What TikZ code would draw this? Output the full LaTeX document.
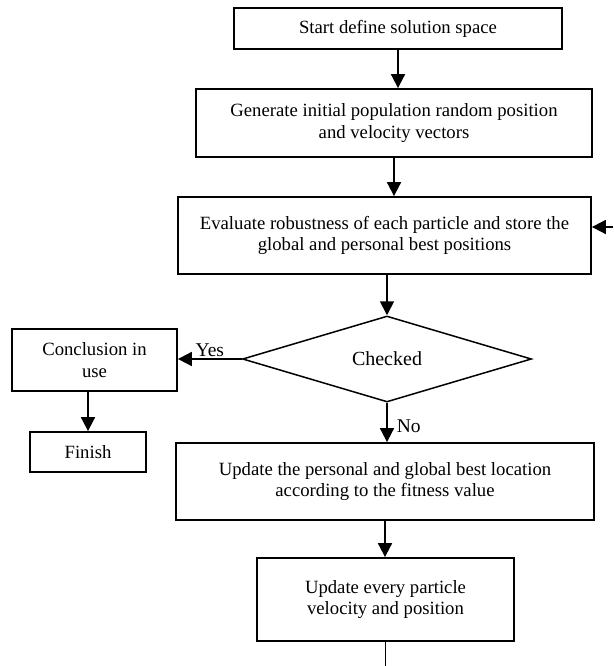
\documentclass[tikz,border=0pt]{standalone}
\usepackage{fontspec}
\setmainfont{Liberation Serif}
\usetikzlibrary{shapes.geometric,arrows.meta}

\begin{document}
\begin{tikzpicture}[x=1pt,y=-1pt,
    blocco/.style={draw, line width=1.8pt, align=center, inner sep=0pt, font=\fontsize{18.7}{21.5}\selectfont},
    rombo/.style={draw, diamond, line width=1.5pt, inner sep=0pt, aspect=3.4, font=\fontsize{20}{24}\selectfont},
    freccia/.style={-{Triangle[length=14pt,width=14pt]}, line width=1.8pt},
    etichetta/.style={font=\fontsize{19.5}{22}\selectfont, inner sep=1pt}]
  \useasboundingbox (0,0) rectangle (613,666);
  %blocchi principali
  \node[blocco, minimum width=328pt, minimum height=41pt] (inizio) at (398,28.5) {Start define solution space};
  \node[blocco, minimum width=396pt, minimum height=68pt] (genera) at (394,123) {Generate initial population random position\\and velocity vectors};
  \node[blocco, minimum width=413pt, minimum height=77pt] (valuta) at (384.5,235.5) {Evaluate robustness of each particle and store the\\global and personal best positions};
  \node[rombo, minimum width=289pt, minimum height=86pt] (decisione) at (387,359) {Checked};
  \node[blocco, minimum width=165pt, minimum height=62pt] (conclusione) at (94.5,360) {Conclusion in\\use};
  \node[blocco, minimum width=116pt, minimum height=40pt] (fine) at (88,452) {Finish};
  \node[blocco, minimum width=418pt, minimum height=77pt] (aggiorna) at (385,481.5) {Update the personal and global best location\\according to the fitness value};
  \node[blocco, minimum width=257pt, minimum height=83pt] (velocita) at (385.5,599.5) {Update every particle\\velocity and position};
  %estremi liberi
  \coordinate (ritorno) at (613,227);
  \coordinate (uscita) at (386,666);
  %collegamenti
  \draw[freccia] (inizio.south) -- (inizio.south |- genera.north);
  \draw[freccia] (genera.south) -- (genera.south |- valuta.north);
  \draw[freccia] (decisione.north |- valuta.south) -- (decisione.north);
  \draw[freccia] (decisione.west) -- (conclusione.east |- decisione.west) node[midway, above, etichetta] {Yes};
  \draw[freccia] (fine.north |- conclusione.south) -- (fine.north);
  \draw[freccia] (decisione.south) -- (decisione.south |- aggiorna.north) node[pos=0.6, right=8pt, etichetta] {No};
  \draw[freccia] (aggiorna.south) -- (aggiorna.south |- velocita.north);
  \draw[line width=1.8pt] (velocita.south) -- (velocita.south |- uscita);
  \draw[freccia] (ritorno) -- (ritorno -| valuta.east);
\end{tikzpicture}
\end{document}
